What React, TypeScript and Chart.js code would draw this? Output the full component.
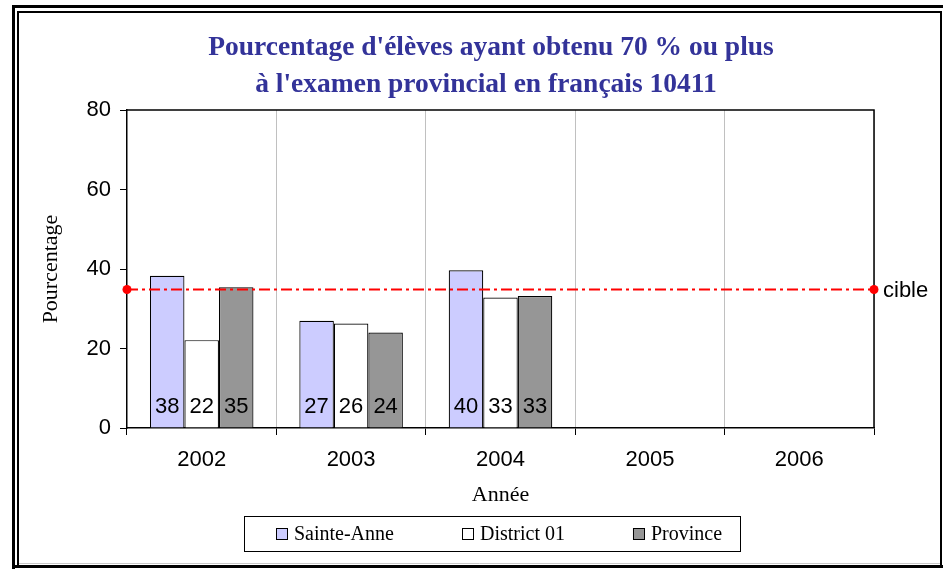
import React, { useEffect, useRef } from "react";
import { Chart, registerables } from "chart.js";

Chart.register(...registerables);

const titleLines = ["Pourcentage d'élèves ayant obtenu 70 % ou plus", "à l'examen provincial en français 10411"];
const years = ["2002", "2003", "2004", "2005", "2006"];
const seriesNames = ["Sainte-Anne", "District 01", "Province"];
const sainteAnne = [38.3, 27.0, 39.7, null, null];
const district01 = [22.1, 26.3, 32.8, null, null];
const province = [35.4, 24.0, 33.2, null, null];
const seriesColors = ["#CCCCFF", "#FFFFFF", "#969696"];
const cibleValue = 35;
const cibleLabel = "cible";
const yTicks = [0, 20, 40, 60, 80];
const yTitle = "Pourcentage";
const xTitle = "Année";

const SANS = "'Liberation Sans', Arial, sans-serif";
const SERIF = "'Liberation Serif', 'Times New Roman', serif";

const framePlugin = {
  id: "frame",
  beforeDraw(chart: any) {
    const { ctx, width, height } = chart;
    ctx.save();
    ctx.fillStyle = "#fff";
    ctx.fillRect(0, 0, width, height);
    ctx.strokeStyle = "#000";
    ctx.lineWidth = 3;
    ctx.beginPath();
    ctx.moveTo(13.5, height);
    ctx.lineTo(13.5, 6.5);
    ctx.lineTo(width, 6.5);
    ctx.stroke();
    ctx.beginPath();
    ctx.moveTo(13.5, 566.5);
    ctx.lineTo(width, 566.5);
    ctx.stroke();
    ctx.lineWidth = 2;
    ctx.beginPath();
    ctx.moveTo(18, 565);
    ctx.lineTo(18, 12);
    ctx.lineTo(941, 12);
    ctx.lineTo(941, 565);
    ctx.stroke();
    ctx.strokeStyle = "#c8c8c8";
    ctx.lineWidth = 1;
    ctx.beginPath();
    ctx.moveTo(19, 563.5);
    ctx.lineTo(940, 563.5);
    ctx.stroke();
    ctx.fillStyle = "#333399";
    ctx.font = `bold 27.5px ${SERIF}`;
    ctx.textAlign = "center";
    ctx.textBaseline = "middle";
    ctx.fillText(titleLines[0], 491, 48);
    ctx.fillText(titleLines[1], 486, 85);
    ctx.restore();
  },
  afterDatasetsDraw(chart: any) {
    const { ctx, chartArea } = chart;
    ctx.save();
    ctx.fillStyle = "#000";
    ctx.font = `22px ${SANS}`;
    ctx.textAlign = "center";
    ctx.textBaseline = "middle";
    for (let d = 0; d < 3; d++) {
      const meta = chart.getDatasetMeta(d);
      const data = chart.data.datasets[d].data;
      meta.data.forEach((el: any, i: number) => {
        const v = data[i];
        if (v === null || v === undefined) return;
        ctx.fillText(String(Math.round(v as number)), el.x, chartArea.bottom - 21);
      });
    }
    const y = Math.round(chart.scales.y.getPixelForValue(cibleValue)) + 0.5;
    ctx.strokeStyle = "#FF0000";
    ctx.lineWidth = 2;
    ctx.setLineDash([11, 4, 3, 4]);
    ctx.beginPath();
    ctx.moveTo(chartArea.left, y);
    ctx.lineTo(chartArea.right, y);
    ctx.stroke();
    ctx.setLineDash([]);
    ctx.restore();
  },
  afterDraw(chart: any) {
    const { ctx, chartArea } = chart;
    ctx.save();
    ctx.strokeStyle = "#000";
    ctx.lineWidth = 1.5;
    ctx.beginPath();
    ctx.moveTo(chartArea.left, chartArea.top);
    ctx.lineTo(chartArea.right, chartArea.top);
    ctx.lineTo(chartArea.right, chartArea.bottom);
    ctx.stroke();
    const y = Math.round(chart.scales.y.getPixelForValue(cibleValue)) + 0.5;
    ctx.fillStyle = "#FF0000";
    [chartArea.left, chartArea.right].forEach((x: number) => {
      ctx.beginPath();
      ctx.arc(x, y, 4.5, 0, Math.PI * 2);
      ctx.fill();
    });
    ctx.fillStyle = "#000";
    ctx.font = `22px ${SANS}`;
    ctx.textAlign = "left";
    ctx.textBaseline = "middle";
    ctx.fillText(cibleLabel, chartArea.right + 9, y + 1);
    ctx.font = `20px ${SERIF}`;
    const sw = 12;
    const gapText = 6;
    const gapItem = 68;
    const widths = seriesNames.map((n) => ctx.measureText(n).width);
    const total = widths.reduce((a, w) => a + sw + gapText + w, 0) + gapItem * (seriesNames.length - 1);
    let x = 499 - total / 2;
    const ly = 534;
    ctx.lineWidth = 1;
    ctx.strokeStyle = "#000";
    ctx.strokeRect(244.5, 516.5, 496, 35);
    seriesNames.forEach((n, i) => {
      ctx.fillStyle = seriesColors[i];
      ctx.fillRect(x, ly - 6, sw, sw);
      ctx.strokeRect(Math.round(x) + 0.5, ly - 6 + 0.5, sw - 1, sw - 1);
      ctx.fillStyle = "#000";
      ctx.textAlign = "left";
      ctx.textBaseline = "middle";
      ctx.fillText(n, x + sw + gapText, ly + 1);
      x += sw + gapText + widths[i] + gapItem;
    });
    ctx.restore();
  },
};

export default function App() {
  const ref = useRef<HTMLCanvasElement | null>(null);
  useEffect(() => {
    if (!ref.current) return;
    const barDs = (label: string, data: any[], color: string) => ({
      label,
      data,
      backgroundColor: color,
      borderColor: "#000",
      borderWidth: 1.2,
      categoryPercentage: 0.693,
      barPercentage: 1.0,
    });
    const chart = new Chart(ref.current, {
      type: "bar",
      data: {
        labels: years,
        datasets: [
          barDs(seriesNames[0], sainteAnne, seriesColors[0]),
          barDs(seriesNames[1], district01, seriesColors[1]),
          barDs(seriesNames[2], province, seriesColors[2]),
        ],
      },
      options: {
        responsive: false,
        animation: false,
        events: [],
        layout: { padding: { top: 110, left: 30, right: 69, bottom: 61 } },
        plugins: {
          legend: { display: false },
          title: { display: false },
          tooltip: { enabled: false },
        },
        scales: {
          x: {
            type: "category",
            offset: true,
            grid: {
              display: true,
              offset: true,
              color: "#c0c0c0",
              lineWidth: 1,
              tickColor: "#000",
              tickLength: 7,
              drawTicks: true,
            },
            border: { display: true, color: "#000", width: 1.5 },
            ticks: { color: "#000", font: { family: SANS, size: 22 }, padding: 12 },
            title: {
              display: true,
              text: xTitle,
              color: "#000",
              font: { family: SERIF, size: 22 },
              padding: { top: 0, bottom: 0 },
            },
            afterFit: (s: any) => {
              s.height = 80;
            },
          },
          y: {
            type: "linear",
            min: 0,
            max: 80,
            afterBuildTicks: (s: any) => {
              s.ticks = yTicks.map((v) => ({ value: v }));
            },
            grid: {
              display: true,
              drawOnChartArea: false,
              drawTicks: true,
              tickLength: 7,
              tickColor: "#000",
              color: "#000",
            },
            border: { display: true, color: "#000", width: 1.5 },
            ticks: { color: "#000", font: { family: SANS, size: 22 }, padding: 9 },
            title: {
              display: true,
              text: yTitle,
              color: "#000",
              font: { family: SERIF, size: 22 },
              padding: { top: 8, bottom: 0 },
            },
            afterFit: (s: any) => {
              s.width = 97;
            },
          },
        },
      },
      plugins: [framePlugin],
    });
    return () => chart.destroy();
  }, []);
  return (
    <div style={{ position: "fixed", left: 0, top: 0, width: 943, height: 569, background: "#fff" }}>
      <canvas ref={ref} width={943} height={569} style={{ width: 943, height: 569, display: "block" }} />
    </div>
  );
}
